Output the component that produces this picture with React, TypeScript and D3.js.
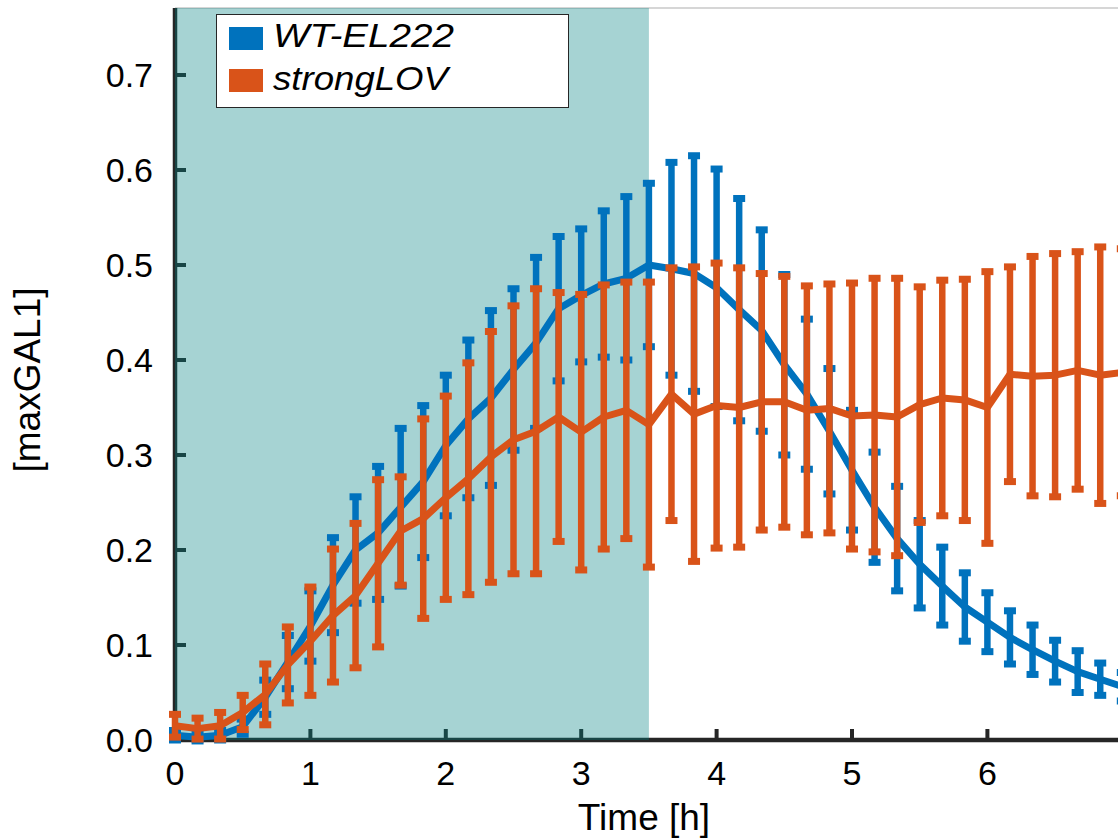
import React from 'react';
import * as d3 from 'd3';

// time points in minutes
const timeMin = [0, 10, 20, 30, 40, 50, 60, 70, 80, 90, 100, 110, 120, 130, 140, 150, 160, 170, 180, 190, 200,
  210, 220, 230, 240, 250, 260, 270, 280, 290, 300, 310, 320, 330, 340, 350, 360, 370, 380, 390, 400, 410, 420];

const wtMean = [0.005, 0.003, 0.005, 0.014, 0.045, 0.082, 0.12, 0.163, 0.2, 0.218, 0.245, 0.272, 0.31, 0.338, 0.36,
  0.39, 0.418, 0.454, 0.468, 0.48, 0.486, 0.5, 0.496, 0.491, 0.476, 0.453, 0.431, 0.395, 0.364, 0.325, 0.284,
  0.245, 0.212, 0.185, 0.162, 0.14, 0.124, 0.108, 0.095, 0.083, 0.072, 0.064, 0.056];
const wtErr = [0.005, 0.004, 0.005, 0.008, 0.018, 0.028, 0.037, 0.05, 0.056, 0.07, 0.083, 0.08, 0.074, 0.083, 0.092,
  0.085, 0.09, 0.076, 0.07, 0.077, 0.086, 0.086, 0.112, 0.124, 0.125, 0.117, 0.106, 0.095, 0.079, 0.066, 0.063,
  0.058, 0.055, 0.046, 0.041, 0.036, 0.031, 0.028, 0.026, 0.022, 0.022, 0.017, 0.015];

const lovMean = [0.015, 0.012, 0.015, 0.029, 0.048, 0.079, 0.104, 0.131, 0.152, 0.186, 0.22, 0.233, 0.255, 0.275,
  0.298, 0.316, 0.325, 0.34, 0.324, 0.34, 0.347, 0.332, 0.364, 0.343, 0.352, 0.35, 0.356, 0.356, 0.347, 0.349,
  0.341, 0.342, 0.34, 0.353, 0.36, 0.358, 0.35, 0.385, 0.383, 0.384, 0.389, 0.384, 0.387];
const lovErr = [0.012, 0.011, 0.014, 0.018, 0.032, 0.04, 0.057, 0.07, 0.076, 0.088, 0.057, 0.105, 0.107, 0.122, 0.132,
  0.141, 0.15, 0.131, 0.145, 0.139, 0.135, 0.15, 0.133, 0.155, 0.15, 0.147, 0.135, 0.132, 0.131, 0.131, 0.14,
  0.144, 0.146, 0.124, 0.124, 0.127, 0.143, 0.113, 0.126, 0.128, 0.125, 0.135, 0.13];

const xTicks = [0, 1, 2, 3, 4, 5, 6];
const yTicks = [0, 0.1, 0.2, 0.3, 0.4, 0.5, 0.6, 0.7];
const lightWindow = [0, 3.5];

const seriesNames = ['WT-EL222', 'strongLOV'];
const seriesColors = ['#0072BD', '#D95319'];

const FONT = '"Liberation Sans", Arial, Helvetica, sans-serif';

export default function App() {
  const W = 1118;
  const H = 839;
  const left = 175;
  const bottom = 740;
  const top = 8;
  const x = d3.scaleLinear().domain([0, 7]).range([left, left + 7 * 135.4]);
  const y = d3.scaleLinear().domain([0, 0.7705]).range([bottom, top]);
  const axisColor = '#262626';

  const series = [
    { name: seriesNames[0], color: seriesColors[0], mean: wtMean, err: wtErr },
    { name: seriesNames[1], color: seriesColors[1], mean: lovMean, err: lovErr },
  ];

  const line = d3
    .line<number>()
    .x((_, i) => x(timeMin[i] / 60))
    .y((d) => y(d));

  return (
    <svg
      width={W}
      height={H}
      style={{ position: 'absolute', left: 0, top: 0, background: '#fff' }}
      fontFamily={FONT}
    >
      <defs>
        <clipPath id="plotclip">
          <rect x={0} y={0} width={W} height={H} />
        </clipPath>
      </defs>
      {/* top box line */}
      <line x1={left} x2={W} y1={top} y2={top} stroke="#c8c8c8" strokeWidth={1.5} />
      {/* axes */}
      <line x1={left} x2={left} y1={top} y2={bottom} stroke={axisColor} strokeWidth={4.5} />
      <line x1={left - 2} x2={W} y1={bottom} y2={bottom} stroke={axisColor} strokeWidth={4.5} />
      {yTicks.map((t) => (
        <g key={'yt' + t}>
          <line x1={left} x2={left + 11} y1={y(t)} y2={y(t)} stroke={axisColor} strokeWidth={4} />
          <text x={153} y={y(t)} dy="0.36em" textAnchor="end" fontSize={34} fill="#000">
            {t.toFixed(1)}
          </text>
        </g>
      ))}
      {xTicks.map((t) => (
        <g key={'xt' + t}>
          <line x1={x(t)} x2={x(t)} y1={bottom} y2={bottom - 11} stroke={axisColor} strokeWidth={4} />
          <text x={x(t)} y={785} textAnchor="middle" fontSize={34} fill="#000">
            {t}
          </text>
        </g>
      ))}
      <text x={644} y={830} textAnchor="middle" fontSize={37} fill="#000">
        Time [h]
      </text>
      <text
        transform={`translate(40,380) rotate(-90)`}
        textAnchor="middle"
        fontSize={37}
        fill="#000"
      >
        [maxGAL1]
      </text>
      {/* light window shading */}
      <rect
        x={x(lightWindow[0])}
        y={top}
        width={x(lightWindow[1]) - x(lightWindow[0])}
        height={bottom - top}
        fill="rgb(0,128,128)"
        fillOpacity={0.35}
      />
      {/* data */}
      <g clipPath="url(#plotclip)">
        {series.map((s) => (
          <g key={s.name}>
            {s.mean.map((m, i) => {
              const cx = x(timeMin[i] / 60);
              const y1 = y(m + s.err[i]);
              const y0 = y(m - s.err[i]);
              return (
                <g key={i} stroke={s.color}>
                  <line x1={cx} x2={cx} y1={y1} y2={y0} strokeWidth={6.5} />
                  <line x1={cx - 6} x2={cx + 6} y1={y1} y2={y1} strokeWidth={7} />
                  <line x1={cx - 6} x2={cx + 6} y1={y0} y2={y0} strokeWidth={7} />
                </g>
              );
            })}
            <path d={line(s.mean) || ''} fill="none" stroke={s.color} strokeWidth={7} strokeLinejoin="round" />
          </g>
        ))}
      </g>
      {/* legend */}
      <rect x={216.5} y={14.5} width={352} height={93} fill="#fff" stroke="#262626" strokeWidth={1} />
      {series.map((s, i) => (
        <g key={'lg' + s.name}>
          <rect x={229} y={i === 0 ? 27 : 69} width={34} height={23} fill={s.color} />
          <text
            x={273}
            y={i === 0 ? 47 : 90}
            fontSize={33}
            fontStyle="italic"
            fill="#000"
            textLength={i === 0 ? 181 : 175}
            lengthAdjust="spacingAndGlyphs"
          >
            {s.name}
          </text>
        </g>
      ))}
    </svg>
  );
}
